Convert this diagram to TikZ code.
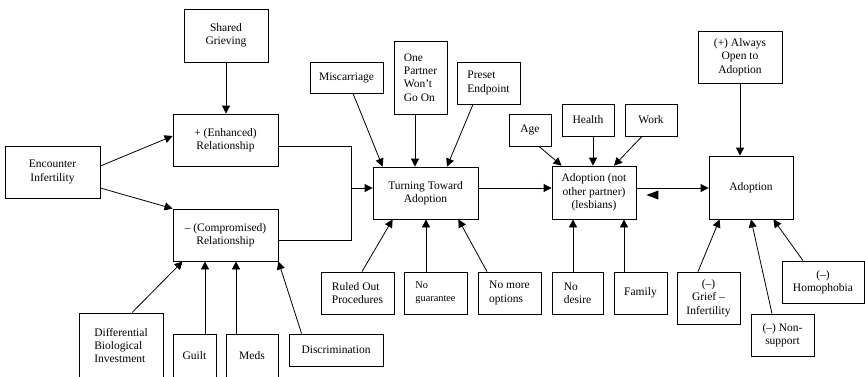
\documentclass[tikz,border=0pt]{standalone}
\usepackage{fontspec}
\setmainfont{Liberation Serif}
\usetikzlibrary{arrows.meta,calc}
\begin{document}
\begin{tikzpicture}[x=1pt,y=-1pt,
  box/.style={draw, line width=0.8pt, inner sep=0pt, align=center,
    font=\fontsize{11.5}{13.3}\selectfont},
  sz/.style 2 args={minimum width=#1pt, minimum height=#2pt},
  arr/.style={line width=0.8pt,-{Triangle[length=8pt,width=8pt]}},
  ln/.style={line width=0.8pt}]
\clip (0,0) rectangle (865,376);
% nodes
\node[box, sz={95}{52}] (enc) at (52.5,172) {Encounter\\Infertility};
\node[box, sz={84}{53}] (shared) at (226,35.5) {Shared\\Grieving};
\node[box, sz={105}{52}] (enh) at (225.5,140) {+ (Enhanced)\\Relationship};
\node[box, sz={105}{52}] (comp) at (225.5,235) {– (Compromised)\\Relationship};
\node[box, sz={84}{65}, align=left] (diff) at (121,345.5) {Differential\\Biological\\Investment};
\node[box, sz={43}{44}] (guilt) at (194.5,356) {Guilt};
\node[box, sz={52}{44}] (meds) at (252,356) {Meds};
\node[box, sz={94}{32}] (discr) at (336,350) {Discrimination};
\node[box, sz={73}{31}] (misc) at (346.5,77.5) {Miscarriage};
\node[box, sz={53}{73}, align=left] (one) at (420.5,77.5) {One\\Partner\\Won’t\\Go On};
\node[box, sz={63}{42}, align=left] (preset) at (488.5,83) {Preset\\Endpoint};
\node[box, sz={105}{52}] (turn) at (425.5,193) {Turning Toward\\Adoption};
\node[box, sz={42}{32}] (age) at (530,130) {Age};
\node[box, sz={52}{32}] (health) at (588,120) {Health};
\node[box, sz={52}{32}] (work) at (651,120) {Work};
\node[box, sz={84}{53}] (adnot) at (594,192.5) {Adoption (not\\other partner)\\(lesbians)};
\node[box, sz={84}{63}] (adopt) at (751,187.5) {Adoption};
\node[box, sz={84}{52}] (always) at (740,57) {(+) Always\\Open to\\Adoption};
\node[box, sz={73}{42}, align=left] (ruled) at (357.5,293) {Ruled Out\\Procedures};
\node[box, sz={63}{42}, align=left, font=\fontsize{10.3}{13.3}\selectfont] (noguar) at (435.5,293) {No\\guarantee};
\node[box, sz={63}{42}, align=left] (nomore) at (509.5,293) {No more\\options};
\node[box, sz={51}{42}, align=left] (nodesire) at (577.5,293) {No\\desire};
\node[box, sz={53}{42}] (family) at (640.5,293) {Family};
\node[box, sz={63}{52}] (grief) at (708.5,298) {(–)\\Grief –\\Infertility};
\node[box, sz={63}{42}] (nonsup) at (782.5,335) {(–) Non-\\support};
\node[box, sz={82}{42}] (homo) at (823,282) {(–)\\Homophobia};
% start points of vertical connectors
\coordinate (g1) at ($(guilt.north)+(10.5,0)$);
\coordinate (m1) at ($(meds.north)+(-16,0)$);
\coordinate (o1) at ($(one.south)+(-5.5,0)$);
\coordinate (n1) at ($(noguar.north)+(-9.5,0)$);
\coordinate (h1) at ($(health.south)+(5,0)$);
\coordinate (d1) at ($(nodesire.north)+(-4.5,0)$);
\coordinate (f1) at ($(family.north)+(-16.5,0)$);
% connectors, left part
\draw[arr] (shared.south) -- (shared.south |- enh.north);
\draw[arr] ($(enc.east)+(0,-6)$) -- ($(enh.west)+(0,-4)$);
\draw[arr] ($(enc.east)+(0,16)$) -- (comp.north west);
\coordinate (j) at ($(turn.west)+(-21,-5)$);
\draw[ln] ($(enh.east)+(0,6)$) -| (j) |- ($(comp.east)+(0,5)$);
\draw[arr] (j) -- (j -| turn.west);
\draw[arr] ($(diff.north)+(11,0)$) -- ($(comp.south west)+(10,0)$);
\draw[arr] (g1) -- (g1 |- comp.south);
\draw[arr] (m1) -- (m1 |- comp.south);
\draw[arr] ($(discr.north west)+(13,0)$) -- (comp.south east);
% into turning
\draw[arr] ($(misc.south)+(6.5,0)$) -- ($(turn.north west)+(10,0)$);
\draw[arr] (o1) -- (o1 |- turn.north);
\draw[arr] ($(preset.south)+(-15.5,0)$) -- ($(turn.north)+(21.5,0)$);
\draw[arr] ($(ruled.north)+(4.5,0)$) -- ($(turn.south west)+(20,0)$);
\draw[arr] (n1) -- (n1 |- turn.south);
\draw[arr] ($(nomore.north)+(-22.5,0)$) -- ($(turn.south east)+(-20,0)$);
\draw[arr] ($(turn.east)+(0,-5)$) -- ($(adnot.west)+(0,-4.5)$);
% into adoption (not other partner)
\draw[arr] ($(age.south)+(9,0)$) -- ($(adnot.north west)+(10,0)$);
\draw[arr] (h1) -- (h1 |- adnot.north);
\draw[arr] ($(work.south)+(-9,0)$) -- ($(adnot.north)+(20,0)$);
\draw[arr] (d1) -- (d1 |- adnot.south);
\draw[arr] (f1) -- (f1 |- adnot.south);
\draw[arr] ($(adnot.east)+(0,-4.5)$) -- ($(adopt.west)+(0,0.5)$);
\coordinate (tip) at ($(adnot.east)+(10,2.5)$);
\fill (tip) -- ++(12,-4.5) -- ++(0,9) -- cycle;
% into adoption
\draw[arr] (always.south) -- (always.south |- adopt.north);
\draw[arr] ($(grief.north)+(-10.5,0)$) -- ($(adopt.south west)+(11,0)$);
\draw[arr] ($(nonsup.north)+(-10.5,0)$) -- (adopt.south);
\draw[arr] ($(homo.north)+(-20,0)$) -- ($(adopt.south east)+(-20,0)$);
\end{tikzpicture}
\end{document}
